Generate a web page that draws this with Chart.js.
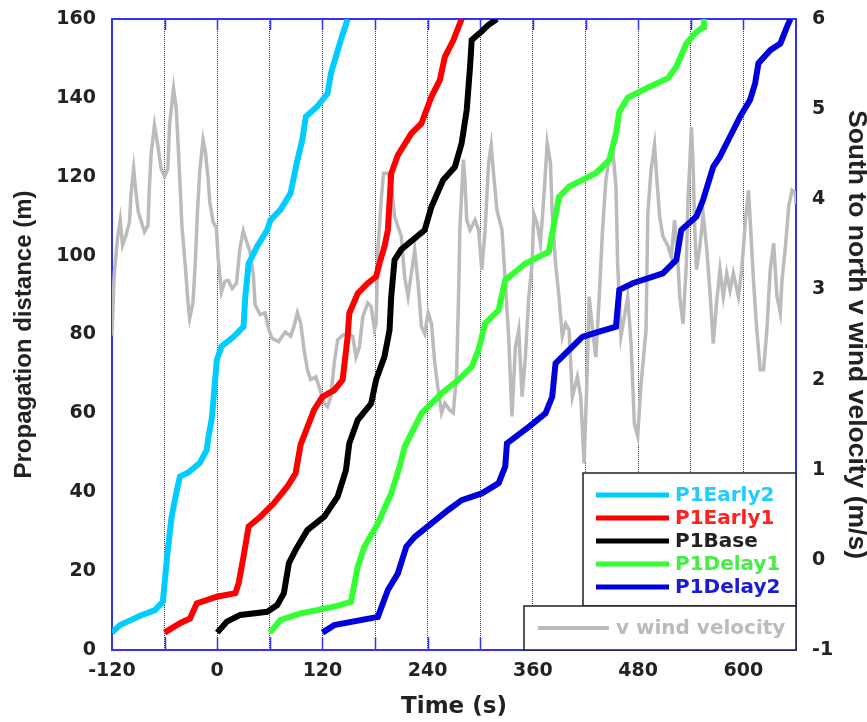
<!DOCTYPE html>
<html>
<head>
<meta charset="utf-8">
<script src="https://cdn.jsdelivr.net/npm/chart.js@4.4.1/dist/chart.umd.min.js"></script>
<style>
  html, body { margin: 0; padding: 0; background: #fff; }
</style>
</head>
<body>
<canvas id="chart" width="867" height="722"></canvas>
<script>
// plume front propagation, one pair of arrays per release
const early2Time = [-120, -111, -88, -71, -62, -60, -56, -52, -46, -42.5, -33, -20, -12, -10, -6, -2.4, -0.5, 5, 18.6, 30, 32, 35.8, 45.5, 57, 60.7, 72, 83.6, 91.4, 97, 101, 114, 125.8, 129.6, 141, 148.7];
const early2Dist = [4.4, 6.3, 8.7, 10.1, 12.2, 17, 26.2, 33.8, 40.6, 44, 45, 47.4, 50.7, 54, 59, 68.5, 73.5, 77, 79.4, 82, 89.6, 98, 102.3, 106.5, 109, 111.6, 115.8, 124.2, 129.3, 135.2, 137.8, 141.1, 146.2, 154.7, 160];

const early1Time = [-60, -42.5, -31, -23.4, -0.4, 20.6, 24.4, 30, 35.8, 49.2, 64.5, 79.8, 89.4, 95, 110.4, 120, 133.4, 143, 148.7, 150.6, 160.2, 171.7, 181.2, 185, 190.7, 194.6, 198.4, 206, 221.4, 232.8, 244.3, 253.8, 259.6, 269.2, 278.7];
const early1Dist = [4.4, 6.8, 8, 11.8, 13.5, 14.4, 16.9, 23.7, 31.3, 33.8, 37.2, 41.4, 44.8, 52, 60.9, 64.2, 65.9, 68.5, 79.4, 85.4, 90.4, 93, 94.7, 98, 102.3, 106.5, 120.8, 125.5, 131, 133.5, 140.3, 144.5, 150.4, 154.6, 160];

const baseTime = [0, 11, 26.3, 57, 68.4, 76, 81.7, 89.4, 102.8, 122, 137.3, 146.8, 150.6, 160.2, 175.5, 181.2, 190.7, 196.5, 198.4, 202.2, 210, 236.6, 244.3, 257.7, 271, 278.7, 284.5, 288.3, 290.2, 301.7, 309.4, 319];
const baseDist = [4.4, 7.2, 8.9, 9.7, 11.4, 14.4, 22, 25.4, 30.4, 33.8, 38.9, 45.6, 52.4, 58.3, 62.5, 68.5, 74.4, 81.1, 89.6, 98.9, 101.6, 106.5, 112.4, 119.2, 122.5, 128.5, 136.9, 147.9, 154.7, 156.9, 158.5, 160];

const delay1Time = [60, 72, 95, 133.4, 152.5, 160.2, 167.8, 183.2, 198.4, 208, 213.7, 233, 256, 275, 290.2, 298, 305.5, 320.9, 328.4, 351.4, 378.2, 389.7, 401.2, 431.7, 447, 454.7, 458.5, 468, 490, 514, 523.5, 535, 544.6, 554, 555];
const delay1Dist = [4.4, 7.6, 9.3, 11, 12.2, 21.1, 26.2, 32.1, 39.7, 46.5, 51.5, 60, 65.1, 68.5, 71.8, 76.1, 82.8, 86.2, 93.8, 98, 101, 114.9, 117.5, 120.9, 124.2, 131, 136.5, 140, 142.5, 145, 147.9, 153.8, 156.3, 158, 160];

const delay2Time = [120, 133.4, 183.2, 194.6, 206, 215.6, 225.2, 244.3, 263.5, 278.7, 301.7, 320.9, 328.4, 330.4, 355.3, 374.3, 382, 385.8, 393.5, 416.4, 435.6, 454.7, 458.5, 473.8, 508.2, 523.5, 529.2, 546.5, 554, 565.6, 573.3, 584.8, 596.2, 607.7, 613.4, 617.2, 630.7, 642.2, 649.7, 653.6];
const delay2Dist = [4.4, 6.3, 8.4, 15.2, 19.4, 26.2, 28.7, 32.1, 35.5, 38, 39.7, 42.3, 46.5, 52.4, 56.6, 60, 64.2, 72.7, 74.4, 79.4, 80.7, 82, 91.3, 93, 95.5, 98.9, 106.5, 109.9, 114.1, 122.5, 125.1, 130.2, 135.2, 139.5, 143.7, 148.8, 152.1, 153.8, 158, 160];

// south to north wind (right axis)
const windTime = [-120, -117.5, -113.7, -110.6, -108, -104, -100, -98.4, -95.3, -92.7, -90, -83, -79, -77.4, -75.5, -71.6, -67.8, -64, -60, -56.3, -54.4, -49.8, -46.8, -44.8, -42.9, -40.3, -36.5, -33.4, -31.4, -27.6, -25, -22.7, -20, -16.2, -13.5, -10.4, -8.5, -4.7, -0.9, 1, 4.8, 8.7, 12.5, 17.1, 22, 25.9, 29.7, 33.5, 37.4, 41.2, 43.2, 48.9, 54.6, 58.4, 62.2, 69.9, 77.6, 83.7, 87.5, 91.4, 95.1, 99, 102.8, 106.6, 112.4, 116.2, 121.9, 125.8, 129.6, 133.4, 137.3, 143, 148.7, 154.5, 158.3, 162.1, 166, 171.7, 175.5, 179.3, 181.2, 183.2, 187, 189.6, 194.6, 198.4, 202.2, 206, 209.9, 213.7, 217.6, 221.4, 225.2, 229, 232.8, 236.6, 240.5, 244.3, 248.1, 252, 255.8, 259.6, 265.3, 269.2, 273, 275, 276.8, 280.7, 282.5, 284.5, 288.3, 294, 298, 301.7, 305.5, 309.4, 312.4, 315.1, 319, 324.7, 328.4, 332.3, 336.1, 340, 343.8, 347.6, 351.4, 355.3, 359.1, 361, 364.8, 368.6, 372.5, 376.3, 380, 382, 385.8, 389.7, 393.5, 397.3, 401.2, 405, 410.7, 414.5, 418.4, 422.2, 424.1, 428, 431.7, 435.6, 439.4, 443.2, 447, 451, 454.7, 456.6, 460.4, 464.3, 468.1, 471.9, 475.7, 479.5, 483.3, 489, 491, 494.8, 498.7, 501.4, 504.5, 508.2, 514, 517.7, 521.6, 525.4, 527.4, 531.2, 535, 537, 538.9, 540.7, 542.6, 544.6, 546.5, 550.3, 554.1, 558, 561.8, 565.6, 569.4, 573.3, 577.1, 581, 584.8, 588.5, 594.3, 598.1, 602, 605.8, 608.4, 611.5, 615.3, 619.2, 623, 626.8, 630.6, 634.5, 638.3, 642.1, 644, 647.9, 651.7, 655.5, 659.3, 660];
const windVel = [2.49, 3.16, 3.57, 3.77, 3.49, 3.6, 3.75, 4.05, 4.34, 4.08, 3.86, 3.64, 3.71, 4.12, 4.49, 4.82, 4.6, 4.34, 4.25, 4.34, 4.82, 5.23, 5.01, 4.64, 4.27, 3.71, 3.27, 2.86, 2.68, 2.86, 3.31, 3.83, 4.31, 4.66, 4.53, 4.23, 3.97, 3.75, 3.68, 3.35, 2.97, 3.09, 3.1, 3.01, 3.07, 3.46, 3.65, 3.53, 3.42, 3.16, 2.83, 2.72, 2.74, 2.57, 2.46, 2.42, 2.53, 2.48, 2.59, 2.74, 2.63, 2.33, 2.11, 2.0, 2.03, 1.92, 1.74, 1.7, 1.81, 2.18, 2.44, 2.49, 2.51, 2.48, 2.25, 2.36, 2.7, 2.85, 2.81, 2.55, 2.62, 3.44, 3.99, 4.29, 4.29, 4.18, 3.81, 3.7, 3.59, 3.14, 2.92, 3.18, 3.44, 3.07, 2.59, 2.51, 2.74, 2.62, 2.18, 1.88, 1.63, 1.74, 1.66, 1.63, 2.07, 2.85, 3.7, 4.44, 4.21, 3.77, 3.66, 3.77, 3.66, 3.22, 3.66, 4.4, 4.6, 4.29, 3.88, 3.66, 3.1, 2.48, 1.59, 2.36, 2.55, 1.81, 2.25, 2.92, 3.29, 3.84, 3.73, 3.51, 4.03, 4.62, 4.4, 3.84, 3.29, 2.92, 2.48, 2.62, 2.55, 1.81, 2.03, 1.81, 1.07, 2.18, 2.92, 2.55, 2.25, 2.92, 3.66, 4.21, 4.47, 4.55, 4.14, 3.29, 2.48, 2.7, 2.92, 2.4, 1.51, 1.37, 1.95, 2.55, 3.84, 4.33, 4.6, 4.21, 3.81, 3.59, 3.48, 3.36, 3.77, 3.29, 2.92, 2.62, 3.29, 4.03, 4.4, 4.8, 4.4, 3.66, 3.22, 3.47, 3.84, 3.47, 2.99, 2.4, 2.85, 3.22, 2.92, 3.18, 2.99, 3.18, 2.92, 3.22, 3.73, 4.1, 3.66, 3.1, 2.55, 2.11, 2.11, 2.55, 3.22, 3.51, 2.92, 2.74, 3.1, 3.47, 3.92, 4.1, 4.07, 3.95];

const seriesNames = ['P1Early2', 'P1Early1', 'P1Base', 'P1Delay1', 'P1Delay2'];
const seriesColors = ['#00CCFF', '#FF0000', '#000000', '#33FF33', '#0000DD'];
const legendTextColors = ['#22CCFF', '#FF2020', '#222222', '#44EE44', '#1A1AD8'];
const windName = 'v wind velocity';
const windColor = '#BBBBBB';

const axisBlue = '#3333F5';
const bold = 'DejaVu Sans';

function toPoints(ts, ys) {
    return ts.map((t, i) => ({ x: t, y: ys[i] }));
}

const timeSets = [early2Time, early1Time, baseTime, delay1Time, delay2Time];
const distSets = [early2Dist, early1Dist, baseDist, delay1Dist, delay2Dist];

const datasets = seriesNames.map((name, i) => ({
    label: name,
    data: toPoints(timeSets[i], distSets[i]),
    borderColor: seriesColors[i],
    backgroundColor: seriesColors[i],
    borderWidth: 6,
    pointRadius: 0,
    tension: 0,
    yAxisID: 'y'
}));
// wind last so it is drawn underneath
datasets.push({
    label: windName,
    data: toPoints(windTime, windVel),
    borderColor: windColor,
    backgroundColor: windColor,
    borderWidth: 3.5,
    pointRadius: 0,
    tension: 0,
    yAxisID: 'y2'
});

// frame + short solid ticks pointing inward at every grid line
const framePlugin = {
    id: 'frame',
    beforeDatasetsDraw(chart) {
        const ctx = chart.ctx;
        const a = chart.chartArea;
        const xs = chart.scales.x;
        ctx.save();
        ctx.strokeStyle = axisBlue;
        ctx.lineWidth = 1.5;
        xs.ticks.forEach(t => {
            if (t.value <= xs.min || t.value >= xs.max) return;
            const px = Math.round(xs.getPixelForValue(t.value)) + 0.5;
            ctx.beginPath();
            ctx.moveTo(px, a.bottom);
            ctx.lineTo(px, a.bottom - 13);
            ctx.moveTo(px, a.top);
            ctx.lineTo(px, a.top + 11);
            ctx.stroke();
        });
        ctx.lineWidth = 2;
        ctx.strokeRect(a.left, a.top, a.right - a.left, a.bottom - a.top);
        ctx.restore();
    }
};

// legend drawn as two boxes in the lower right corner of the plot
const boxLegend = {
    id: 'boxLegend',
    afterDatasetsDraw(chart) {
        const ctx = chart.ctx;
        const a = chart.chartArea;
        const mainLeft = 583, mainTop = 473, windTop = 606, windLeft = 524;
        ctx.save();
        ctx.fillStyle = '#fff';
        ctx.strokeStyle = '#222';
        ctx.lineWidth = 1.5;
        ctx.fillRect(mainLeft, mainTop, a.right - mainLeft, windTop - mainTop);
        ctx.strokeRect(mainLeft, mainTop, a.right - mainLeft, windTop - mainTop);
        ctx.fillRect(windLeft, windTop, a.right - windLeft, a.bottom - windTop);
        ctx.strokeRect(windLeft, windTop, a.right - windLeft, a.bottom - windTop);

        ctx.font = 'bold 20px "' + bold + '"';
        ctx.textBaseline = 'middle';
        ctx.textAlign = 'left';
        seriesNames.forEach((name, i) => {
            const y = 495 + i * 23;
            ctx.strokeStyle = seriesColors[i];
            ctx.lineWidth = 5;
            ctx.beginPath();
            ctx.moveTo(596, y);
            ctx.lineTo(669, y);
            ctx.stroke();
            ctx.fillStyle = legendTextColors[i];
            ctx.fillText(name, 675, y + 1);
        });
        const wy = 628;
        ctx.strokeStyle = windColor;
        ctx.lineWidth = 4;
        ctx.beginPath();
        ctx.moveTo(538, wy);
        ctx.lineTo(609, wy);
        ctx.stroke();
        ctx.fillStyle = windColor;
        ctx.fillText(windName, 616, wy + 1);
        ctx.restore();
    }
};

const tickFont = { family: bold, size: 19, weight: 'bold' };

// fixed axis sizes so the plot area lands where the original has it
function fixWidth(w) {
    return s => { s.width = w; s.paddingTop = 0; s.paddingBottom = 0; };
}

const chart = new Chart(document.getElementById('chart'), {
    type: 'line',
    data: { datasets: datasets },
    options: {
        responsive: false,
        animation: false,
        events: [],
        layout: { padding: { top: 19, left: 0, right: 0, bottom: 0 } },
        plugins: {
            legend: { display: false },
            tooltip: { enabled: false }
        },
        scales: {
            x: {
                type: 'linear',
                min: -120,
                max: 660,
                afterFit: s => { s.height = 72; s.paddingLeft = 0; s.paddingRight = 0; },
                ticks: {
                    stepSize: 60,
                    autoSkip: false,
                    maxRotation: 0,
                    padding: 10,
                    color: '#222',
                    font: tickFont,
                    callback: v => (v % 120 === 0 ? v : '')
                },
                grid: { color: '#2020FF', lineWidth: 1, drawTicks: false },
                border: { display: false, dash: [1, 1] },
                title: {
                    display: true,
                    text: 'Time (s)',
                    color: '#222',
                    font: { family: bold, size: 23, weight: 'bold', lineHeight: 1.2 },
                    padding: { top: 0, bottom: 1 }
                }
            },
            y: {
                type: 'linear',
                position: 'left',
                min: 0,
                max: 160,
                afterFit: fixWidth(112),
                ticks: { stepSize: 20, padding: 16, color: '#222', font: tickFont },
                grid: { display: false, drawTicks: false },
                border: { display: false },
                title: {
                    display: true,
                    text: 'Propagation distance (m)',
                    color: '#222',
                    font: { family: 'Liberation Sans', size: 24, weight: 'bold', lineHeight: 1.2 },
                    padding: { top: 10, bottom: 0 }
                }
            },
            y2: {
                type: 'linear',
                position: 'right',
                min: -1,
                max: 6,
                afterFit: fixWidth(71),
                ticks: { stepSize: 1, padding: 16, color: '#222', font: tickFont },
                grid: { display: false, drawTicks: false },
                border: { display: false },
                title: {
                    display: true,
                    text: 'South to north v wind velocity (m/s)',
                    color: '#222',
                    font: { family: 'Liberation Sans', size: 26.5, weight: 'bold', lineHeight: 0.8 },
                    padding: { top: 0, bottom: 0 }
                }
            }
        }
    },
    plugins: [framePlugin, boxLegend]
});
</script>
</body>
</html>
